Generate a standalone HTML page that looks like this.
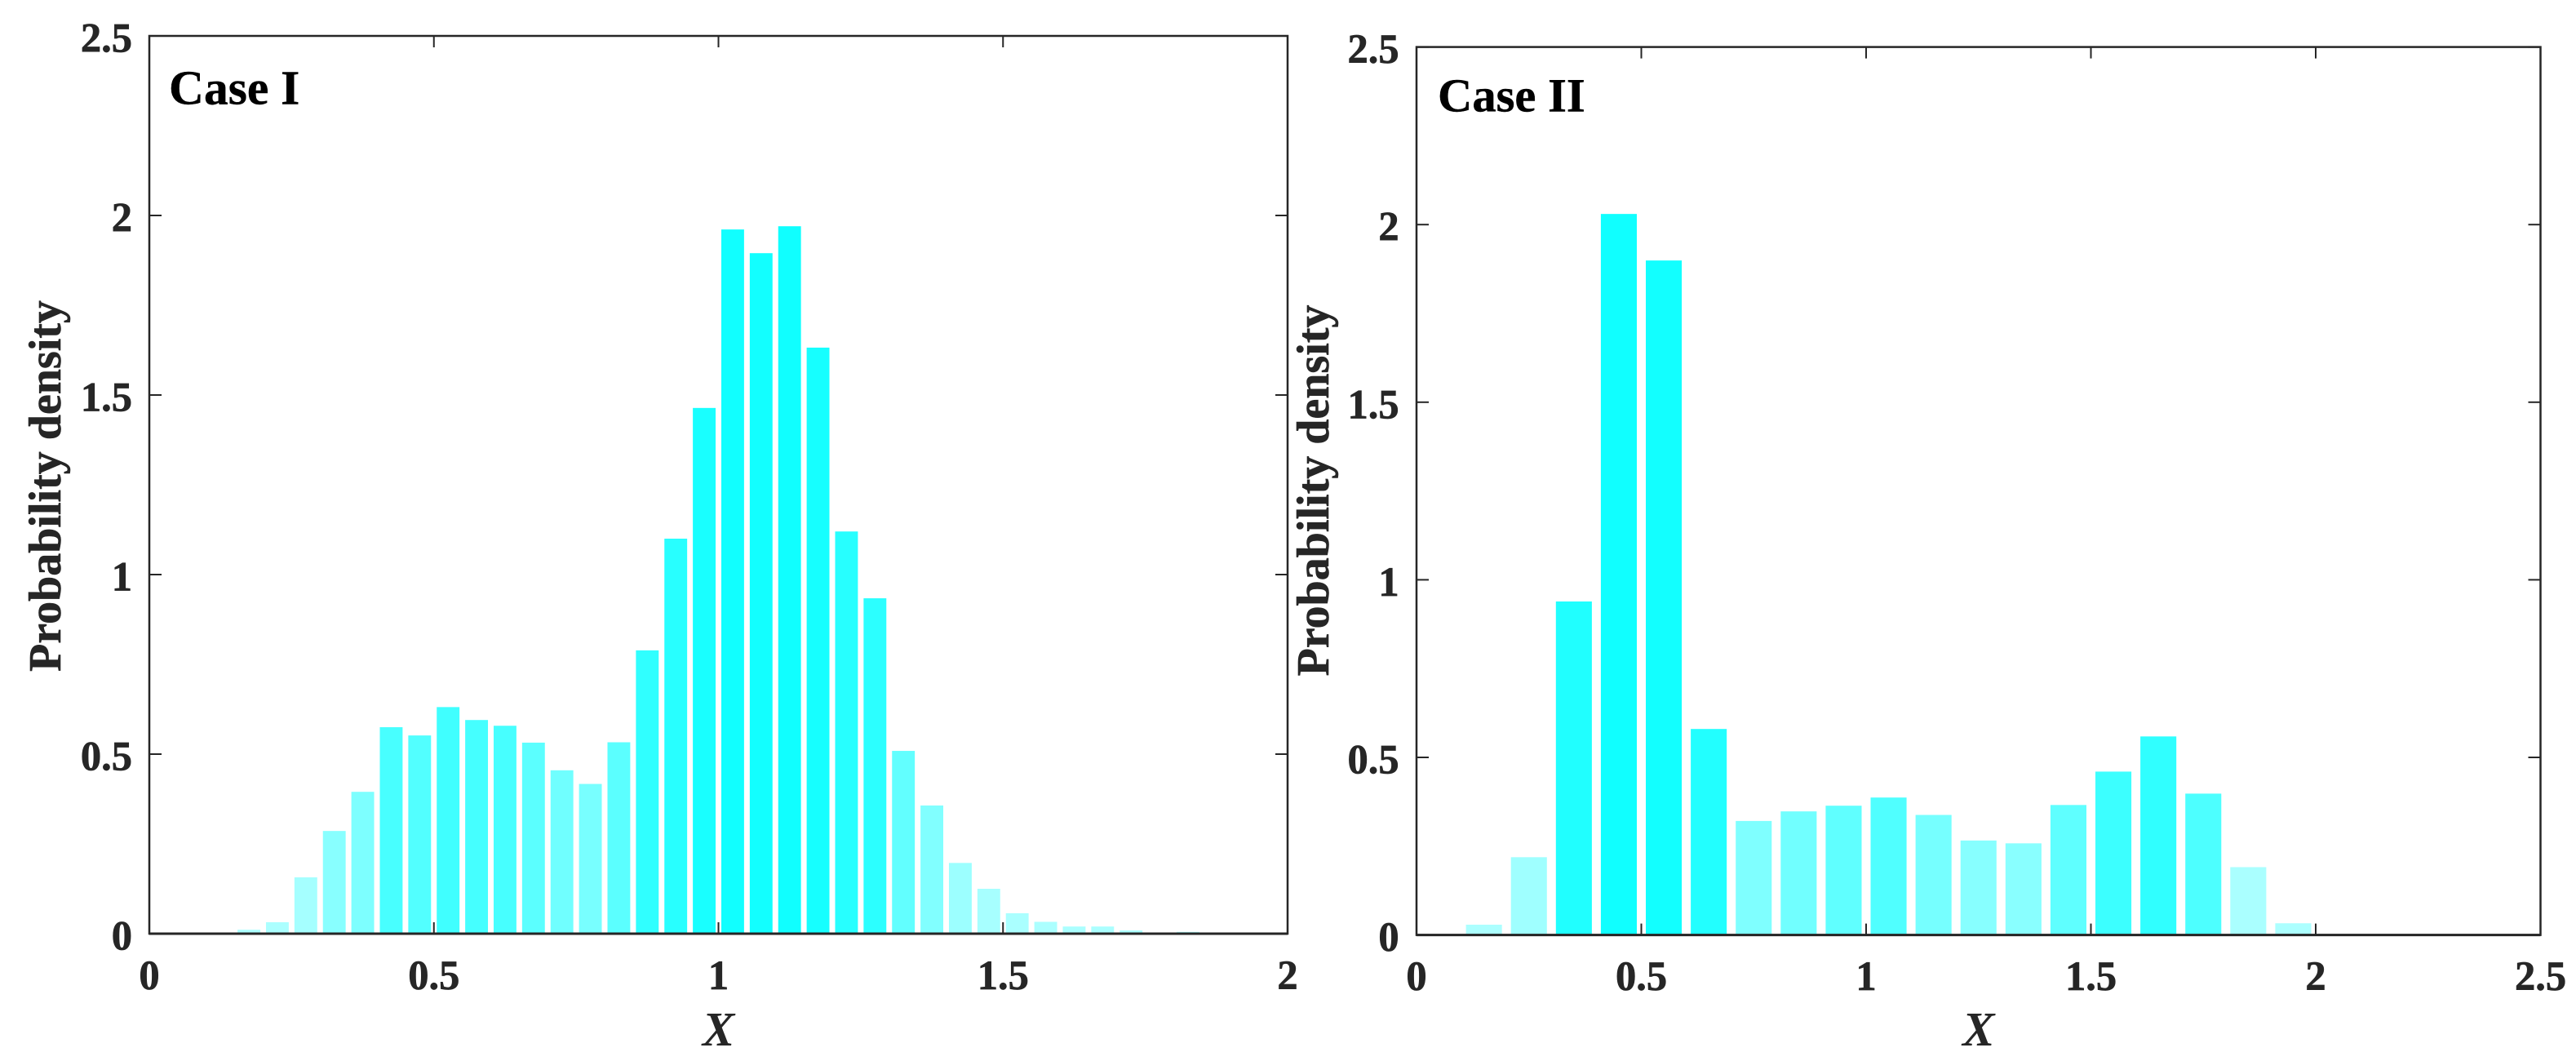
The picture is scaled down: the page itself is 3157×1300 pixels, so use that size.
<!DOCTYPE html>
<html lang="en">
<head>
<meta charset="utf-8">
<title>Probability density histograms: Case I and Case II</title>
<style>
  html, body { margin: 0; padding: 0; background: #ffffff; }
  svg { display: block; }
  text { font-family: "Liberation Serif", "Times New Roman", serif; fill: #262626; }
  .tick { font-size: 50.5px; font-weight: bold; stroke: #262626; stroke-width: 0.7px; }
  .ylab { font-size: 56px; font-weight: bold; stroke: #262626; stroke-width: 0.6px; }
  .xlab { font-size: 59px; font-weight: bold; font-style: italic; }
  .case { font-weight: bold; fill: #000000; stroke: #000000; stroke-width: 0.4px; }
</style>
</head>
<body>
<svg id="figure" xmlns="http://www.w3.org/2000/svg" width="3157" height="1300" viewBox="0 0 3157 1300"></svg>
<script>
const caseOneBins = [0.175,0.225,0.275,0.325,0.375,0.425,0.475,0.525,0.575,0.625,0.675,0.725,0.775,0.825,0.875,0.925,0.975,1.025,1.075,1.125,1.175,1.225,1.275,1.325,1.375,1.425,1.475,1.525,1.575,1.625,1.675,1.725,1.825,1.875];
const caseOneDensity = [0.011,0.032,0.157,0.286,0.395,0.575,0.552,0.631,0.595,0.579,0.532,0.455,0.417,0.533,0.789,1.100,1.464,1.961,1.895,1.970,1.632,1.120,0.934,0.509,0.357,0.197,0.125,0.057,0.033,0.020,0.020,0.009,0.005,0.002];
const caseTwoBins = [0.15,0.25,0.35,0.45,0.55,0.65,0.75,0.85,0.95,1.05,1.15,1.25,1.35,1.45,1.55,1.65,1.75,1.85,1.95];
const caseTwoDensity = [0.029,0.219,0.939,2.030,1.899,0.580,0.321,0.348,0.364,0.387,0.338,0.266,0.258,0.366,0.460,0.559,0.398,0.191,0.033];
const caseOneXTicks = ["0","0.5","1","1.5","2"];
const caseTwoXTicks = ["0","0.5","1","1.5","2","2.5"];
const yTicks = ["0","0.5","1","1.5","2","2.5"];

const svg = document.getElementById('figure');
const NS = 'http://www.w3.org/2000/svg';

function shape(tag, attrs, parent) {
  const el = document.createElementNS(NS, tag);
  for (const k in attrs) el.setAttribute(k, attrs[k]);
  parent.appendChild(el);
  return el;
}

function rampOne(v) {
  const stops = [[0, 172], [0.16, 165], [0.286, 136], [0.395, 125], [0.455, 112], [0.53, 92], [0.575, 72], [0.631, 64], [0.79, 48], [1.1, 40], [1.5, 24], [2, 16], [3, 12]];
  return sampleRamp(stops, v);
}

function rampTwo(v) {
  const stops = [[0, 172], [0.2, 170], [0.26, 136], [0.32, 128], [0.35, 112], [0.364, 96], [0.387, 80], [0.46, 60], [0.56, 48], [0.58, 34], [0.94, 32], [2, 16], [3, 12]];
  return sampleRamp(stops, v);
}

function sampleRamp(stops, v) {
  for (let i = 0; i < stops.length - 1; i++) {
    if (v >= stops[i][0] && v <= stops[i + 1][0]) {
      const t = (v - stops[i][0]) / (stops[i + 1][0] - stops[i][0]);
      const r = Math.round(stops[i][1] + t * (stops[i + 1][1] - stops[i][1]));
      return 'rgb(' + r + ',255,255)';
    }
  }
  return 'rgb(12,255,255)';
}

function drawPanel(cfg) {
  const g = shape('g', {}, svg);
  
  

  const xScale = v => cfg.left + (v / cfg.xMax) * (cfg.right - cfg.left);
  const yScale = v => cfg.bottom - (v / cfg.yMax) * (cfg.bottom - cfg.top);

  cfg.bins.forEach((centre, i) => {
    const value = cfg.values[i];
    const x0 = xScale(centre - cfg.binWidth * 0.4);
    const x1 = xScale(centre + cfg.binWidth * 0.4);
    const bar = shape('rect', {
      x: x0, y: yScale(value), width: x1 - x0, height: yScale(0) - yScale(value), fill: cfg.ramp(value)
    }, g);
    
    
  });

  const frame = shape('rect', {
    x: cfg.left, y: cfg.top, width: cfg.right - cfg.left, height: cfg.bottom - cfg.top,
    fill: 'none', stroke: '#262626', 'stroke-width': 2.5
  }, g);
  
  

  const baseline = shape('line', {
    x1: cfg.left, x2: cfg.right, y1: cfg.bottom, y2: cfg.bottom, stroke: '#262626', 'stroke-width': 3
  }, g);
  
  

  cfg.xTicks.forEach(label => {
    const v = Number(label);
    const x = xScale(v);
    [[cfg.bottom, cfg.bottom - 14], [cfg.top, cfg.top + 14]].forEach(p => {
      const t = shape('line', { x1: x, x2: x, y1: p[0], y2: p[1], stroke: '#262626', 'stroke-width': 2 }, g);
      
      
    });
    const txt = shape('text', { x: x, y: cfg.xLabelBase, 'text-anchor': 'middle', class: 'tick' }, g);
    txt.textContent = label;
    
    
  });

  cfg.yTicks.forEach(label => {
    const v = Number(label);
    const y = yScale(v);
    [[cfg.left, cfg.left + 15], [cfg.right, cfg.right - 15]].forEach(p => {
      const t = shape('line', { x1: p[0], x2: p[1], y1: y, y2: y, stroke: '#262626', 'stroke-width': 2 }, g);
      
      
    });
    const txt = shape('text', { x: cfg.yLabelRight, y: y + 19.5, 'text-anchor': 'end', class: 'tick' }, g);
    txt.textContent = label;
    
    
  });

  const yTitle = shape('text', {
    transform: 'translate(' + cfg.yTitleX + ',' + cfg.yTitleY + ') rotate(-90)',
    'text-anchor': 'middle', class: 'ylab'
  }, g);
  yTitle.textContent = 'Probability density';
  
  

  const xTitle = shape('text', {
    x: (cfg.left + cfg.right) / 2, y: 1281, 'text-anchor': 'middle', class: 'xlab'
  }, g);
  xTitle.textContent = 'X';
  
  

  const caseLabel = shape('text', { x: cfg.caseX, y: cfg.caseY, class: 'case', 'font-size': cfg.caseSize }, g);
  caseLabel.textContent = cfg.caseText;
  
  
}

drawPanel({
  name: 'case-one-chart', left: 183, right: 1578, top: 44, bottom: 1144,
  xMax: 2, yMax: 2.5, binWidth: 0.05, ramp: rampOne,
  bins: caseOneBins, values: caseOneDensity, xTicks: caseOneXTicks, yTicks: yTicks,
  xLabelBase: 1212, yLabelRight: 162, yTitleX: 74, yTitleY: 595.5,
  caseX: 207, caseY: 127.5, caseSize: 59.5, caseText: 'Case I'
});

drawPanel({
  name: 'case-two-chart', left: 1736, right: 3113.5, top: 57.6, bottom: 1145.6,
  xMax: 2.5, yMax: 2.5, binWidth: 0.1, ramp: rampTwo,
  bins: caseTwoBins, values: caseTwoDensity, xTicks: caseTwoXTicks, yTicks: yTicks,
  xLabelBase: 1213, yLabelRight: 1714.6, yTitleX: 1628, yTitleY: 601,
  caseX: 1762, caseY: 136.7, caseSize: 58.6, caseText: 'Case II'
});
</script>
</body>
</html>
